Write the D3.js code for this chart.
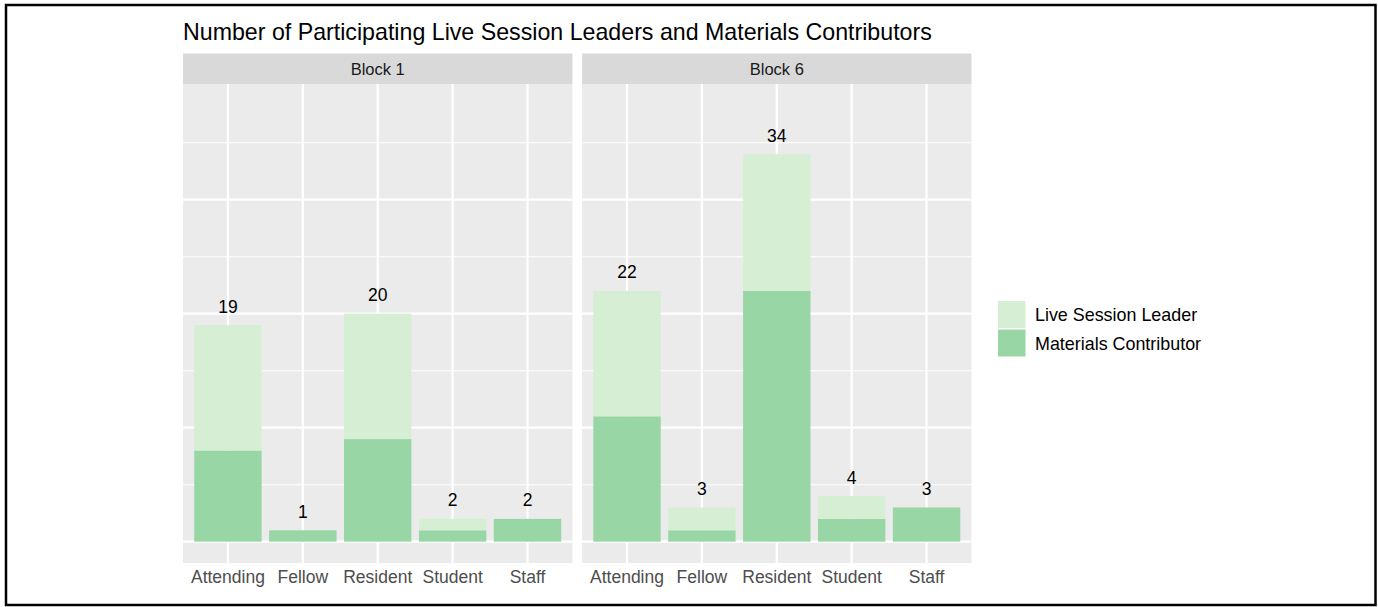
<!DOCTYPE html>
<html>
<head>
<meta charset="utf-8">
<script src="https://cdn.jsdelivr.net/npm/d3@7"></script>
<style>
  body { margin: 0; background: #fff; }
  svg { display: block; font-family: "Liberation Sans", Arial, sans-serif; }
</style>
</head>
<body>
<svg width="1378" height="607"></svg>
<script>
// data
const blocks = ['Block 1', 'Block 6'];
const categories = ['Attending', 'Fellow', 'Resident', 'Student', 'Staff'];
const seriesNames = ['Live Session Leader', 'Materials Contributor'];
const materials = [[8, 1, 9, 1, 2], [11, 1, 22, 2, 3]];
const liveLeaders = [[11, 0, 11, 1, 0], [11, 2, 12, 2, 0]];
const majorTicks = [0, 10, 20, 30];
const minorTicks = [5, 15, 25, 35];

const colors = { 'Live Session Leader': '#d6efd4', 'Materials Contributor': '#98d6a5' };

const svg = d3.select('svg');

// outer frame
svg.append('rect')
    .attr('x', 6).attr('y', 5)
    .attr('width', 1369.5).attr('height', 600)
    .attr('fill', 'none').attr('stroke', '#000').attr('stroke-width', 2.5);

svg.append('text')
    .attr('x', 183).attr('y', 40)
    .attr('font-size', 23.2).attr('fill', '#000')
    .text('Number of Participating Live Session Leaders and Materials Contributors');

const panelTop = 84, panelBottom = 563, stripTop = 53.5;
const panelX = d3.scaleBand().domain(blocks).range([183, 971.5]).paddingInner(9.5 / 788.5 * 2);

const y = d3.scaleLinear().domain([-1.87, 40.15]).range([panelBottom, panelTop]);

blocks.forEach((b, bi) => {
  const g = svg.append('g').attr('transform', 'translate(' + panelX(b) + ',0)');
  const w = panelX.bandwidth();

  const x = d3.scaleBand()
      .domain(categories)
      .range([0, w])
      .paddingInner(0.1)
      .paddingOuter(0.15);

  // strip
  g.append('rect').attr('x', 0).attr('y', stripTop)
      .attr('width', w).attr('height', panelTop - stripTop)
      .attr('fill', '#d9d9d9');
  g.append('text')
      .attr('x', w / 2).attr('y', (stripTop + panelTop) / 2)
      .attr('dy', '0.35em')
      .attr('text-anchor', 'middle')
      .attr('font-size', 16.5).attr('fill', '#1a1a1a')
      .text(b);

  // panel
  g.append('rect').attr('x', 0).attr('y', panelTop)
      .attr('width', w).attr('height', panelBottom - panelTop)
      .attr('fill', '#ebebeb');

  g.selectAll('.minor').data(minorTicks).enter().append('line')
      .attr('x1', 0).attr('x2', w)
      .attr('y1', d => y(d)).attr('y2', d => y(d))
      .attr('stroke', '#fff').attr('stroke-width', 1.1);
  g.selectAll('.major').data(majorTicks).enter().append('line')
      .attr('x1', 0).attr('x2', w)
      .attr('y1', d => y(d)).attr('y2', d => y(d))
      .attr('stroke', '#fff').attr('stroke-width', 2.2);
  g.selectAll('.vgrid').data(categories).enter().append('line')
      .attr('x1', d => x(d) + x.bandwidth() / 2).attr('x2', d => x(d) + x.bandwidth() / 2)
      .attr('y1', panelTop).attr('y2', panelBottom)
      .attr('stroke', '#fff').attr('stroke-width', 2.2);

  // stacked bars: materials at the bottom, live leaders on top
  const rows = categories.map((c, i) => ({
    cat: c,
    'Materials Contributor': materials[bi][i],
    'Live Session Leader': liveLeaders[bi][i]
  }));
  const stack = d3.stack().keys(['Materials Contributor', 'Live Session Leader'])(rows);

  stack.forEach(layer => {
    g.selectAll(null).data(layer).enter().append('rect')
        .attr('x', d => x(d.data.cat))
        .attr('width', x.bandwidth())
        .attr('y', d => y(d[1]))
        .attr('height', d => y(d[0]) - y(d[1]))
        .attr('fill', colors[layer.key]);
  });

  // totals
  g.selectAll('.total').data(rows).enter().append('text')
      .attr('x', d => x(d.cat) + x.bandwidth() / 2)
      .attr('y', d => y(d['Materials Contributor'] + d['Live Session Leader'] + 1.1))
      .attr('text-anchor', 'middle')
      .attr('font-size', 17.5).attr('fill', '#000')
      .text(d => d['Materials Contributor'] + d['Live Session Leader']);

  // x axis labels
  const axis = g.append('g')
      .attr('transform', 'translate(0,' + panelBottom + ')')
      .call(d3.axisBottom(x).tickSize(0).tickPadding(8));
  axis.select('.domain').remove();
  axis.selectAll('text')
      .attr('font-size', 17.5)
      .attr('font-family', '"Liberation Sans", Arial, sans-serif')
      .attr('fill', '#4d4d4d');
});

// legend
const legend = svg.append('g').attr('transform', 'translate(998,301)');
seriesNames.forEach((s, i) => {
  legend.append('rect')
      .attr('x', 0).attr('y', i * 28.5)
      .attr('width', 27.5).attr('height', 27)
      .attr('fill', colors[s]);
  legend.append('text')
      .attr('x', 37).attr('y', i * 28.5 + 14)
      .attr('dy', '0.35em')
      .attr('font-size', 17.9).attr('fill', '#000')
      .text(s);
});
</script>
</body>
</html>
